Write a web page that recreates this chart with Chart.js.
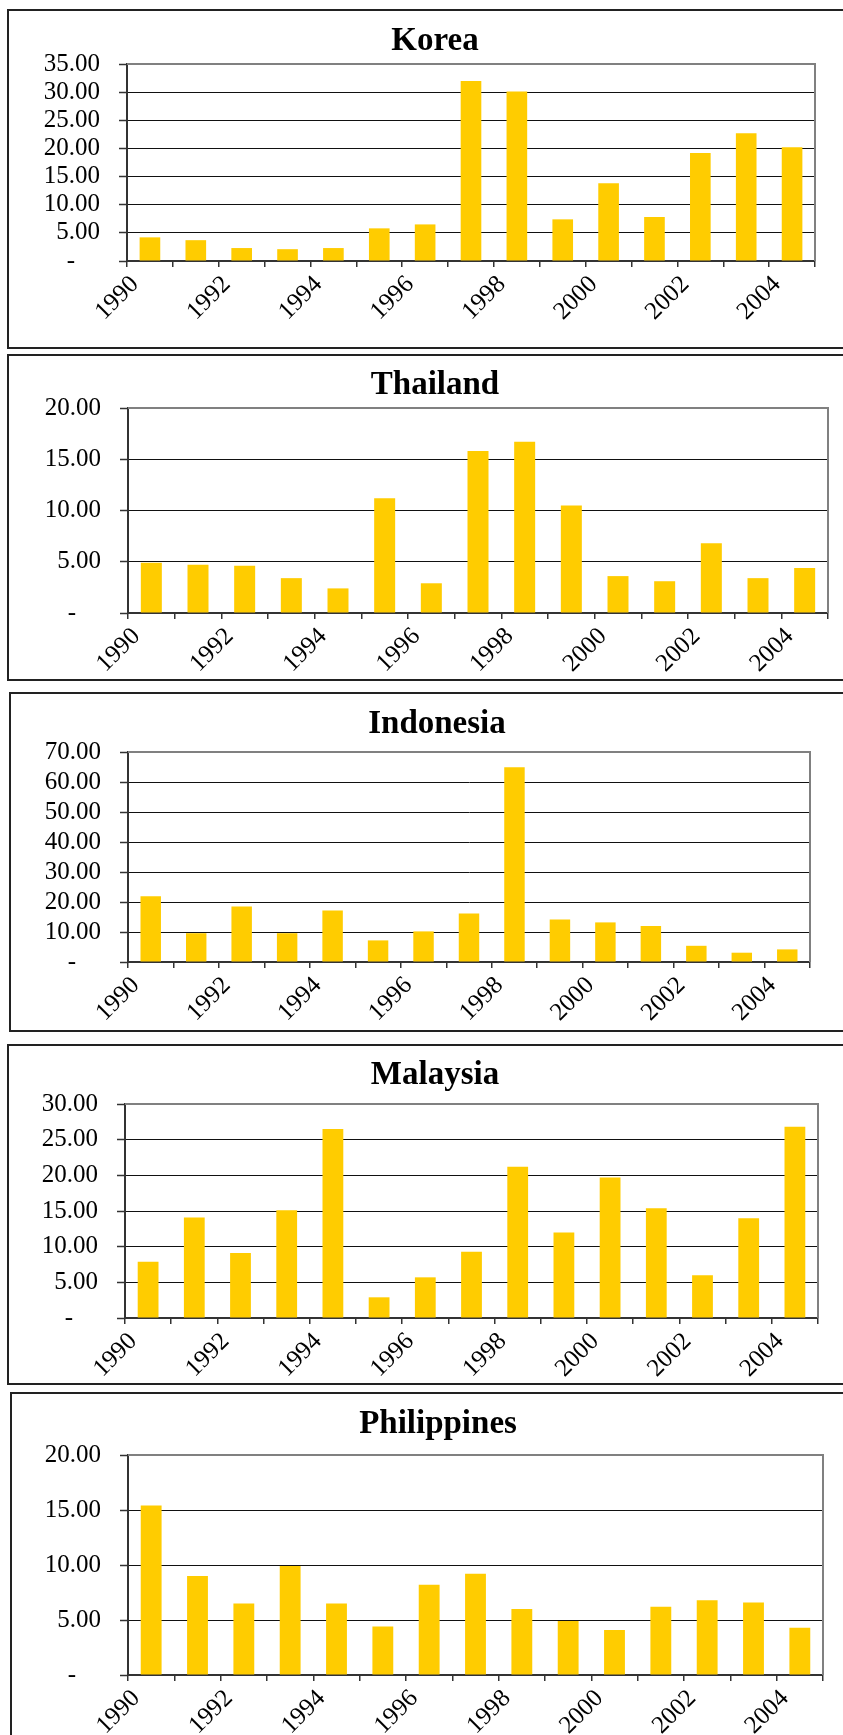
<!DOCTYPE html>
<html>
<head>
<meta charset="utf-8">
<title>Asian economies, 1990-2004</title>
<script src="https://cdn.jsdelivr.net/npm/chart.js@4.4.1/dist/chart.umd.min.js"></script>
<style>
  html, body { margin: 0; padding: 0; background: #fff; }
  body { position: relative; width: 843px; height: 1735px; overflow: hidden; }
  .panel { position: absolute; box-sizing: border-box; border: 2px solid #222; background: #fff; }
  .panel canvas { position: absolute; left: 0; top: 0; }
</style>
</head>
<body>
<script>
// ---- data ----
const years = ['1990', '1991', '1992', '1993', '1994', '1995', '1996', '1997',
               '1998', '1999', '2000', '2001', '2002', '2003', '2004'];

const countries = ['Korea', 'Thailand', 'Indonesia', 'Malaysia', 'Philippines'];

const koreaValues       = [4.2, 3.7, 2.3, 2.1, 2.3, 5.8, 6.5, 32.0, 30.1, 7.4, 13.8, 7.8, 19.2, 22.7, 20.2];
const thailandValues    = [4.9, 4.7, 4.6, 3.4, 2.4, 11.2, 2.9, 15.8, 16.7, 10.5, 3.6, 3.1, 6.8, 3.4, 4.4];
const indonesiaValues   = [21.9, 9.6, 18.5, 9.6, 17.2, 7.2, 10.2, 16.2, 64.9, 14.2, 13.2, 12.0, 5.4, 3.1, 4.2];
const malaysiaValues    = [7.9, 14.1, 9.1, 15.1, 26.5, 2.9, 5.7, 9.3, 21.2, 12.0, 19.7, 15.4, 6.0, 14.0, 26.8];
const philippinesValues = [15.4, 9.0, 6.5, 9.9, 6.5, 4.4, 8.2, 9.2, 6.0, 4.9, 4.1, 6.2, 6.8, 6.6, 4.3];

const seriesValues = [koreaValues, thailandValues, indonesiaValues, malaysiaValues, philippinesValues];

// value-axis ranges
const yAxisMax  = [35, 20, 70, 30, 20];
const yAxisStep = [5, 5, 10, 5, 5];

// ---- layout (page pixels) ----
// box: [left, top, width, height]; plot: [left, top, right, bottom]; titleBase: title baseline y
const panelLayout = [
  { box: [7, 9, 856, 340],    plot: [127, 64, 815, 261],    titleBase: 53 },
  { box: [7, 354, 856, 327],  plot: [128, 408, 828, 613],   titleBase: 397 },
  { box: [9, 692, 856, 340],  plot: [128, 752, 810, 962],   titleBase: 736 },
  { box: [7, 1044, 856, 341], plot: [125, 1104, 818, 1318], titleBase: 1087 },
  { box: [10, 1392, 856, 360], plot: [128, 1455, 823, 1675], titleBase: 1436 }
];

// ---- styles ----
const FONT_FAMILY = "'Liberation Serif', 'Times New Roman', serif";
const TITLE_SIZE = 33;
const TITLE_LINE = 1.2;
const TICK_SIZE = 25;
const BAR_COLOR = '#FFCC00';
const AXIS_COLOR = '#333333';
const GRID_COLOR = '#111111';
const FRAME_COLOR = '#808080';

// grey frame along the top and right of the plot area
const plotFrame = {
  id: 'plotFrame',
  beforeDatasetsDraw(chart) {
    const { ctx, chartArea: a } = chart;
    ctx.save();
    ctx.strokeStyle = FRAME_COLOR;
    ctx.lineWidth = 2;
    ctx.beginPath();
    ctx.moveTo(a.left, a.top);
    ctx.lineTo(a.right, a.top);
    ctx.lineTo(a.right, a.bottom);
    ctx.stroke();
    ctx.restore();
  }
};

function formatValue(v) {
  return v === 0 ? '-\u2007\u2007' : v.toFixed(2);
}

panelLayout.forEach((g, i) => {
  const [L, T, W, H] = g.box;
  const cx = L + 2, cy = T + 2, cw = W - 4, ch = H - 4;
  const pl = g.plot[0] - cx, pt = g.plot[1] - cy, pr = g.plot[2] - cx, pb = g.plot[3] - cy;

  const lineH = TITLE_SIZE * TITLE_LINE;
  const titleMid = g.titleBase - cy - 0.3375 * TITLE_SIZE;
  const titleTop = titleMid - lineH / 2;
  const titleBottom = pt - titleTop - lineH;

  const div = document.createElement('div');
  div.className = 'panel';
  div.style.left = L + 'px';
  div.style.top = T + 'px';
  div.style.width = W + 'px';
  div.style.height = H + 'px';
  const canvas = document.createElement('canvas');
  canvas.width = cw;
  canvas.height = ch;
  canvas.style.width = cw + 'px';
  canvas.style.height = ch + 'px';
  div.appendChild(canvas);
  document.body.appendChild(div);

  new Chart(canvas, {
    type: 'bar',
    data: {
      labels: years,
      datasets: [{
        label: countries[i],
        data: seriesValues[i],
        backgroundColor: BAR_COLOR,
        borderWidth: 0,
        barPercentage: 0.45,
        categoryPercentage: 1,
        yAxisID: 'y'
      }]
    },
    options: {
      responsive: false,
      animation: false,
      devicePixelRatio: 1,
      layout: { padding: 0 },
      plugins: {
        legend: { display: false },
        tooltip: { enabled: false },
        title: {
          display: true,
          text: countries[i],
          color: '#000',
          font: { family: FONT_FAMILY, size: TITLE_SIZE, weight: 'bold', lineHeight: TITLE_LINE },
          padding: { top: titleTop, bottom: titleBottom }
        }
      },
      scales: {
        x: {
          offset: true,
          grid: { offset: true, drawOnChartArea: false, tickLength: 6, color: AXIS_COLOR, lineWidth: 1.5 },
          border: { color: AXIS_COLOR, width: 2 },
          ticks: {
            autoSkip: false,
            maxRotation: 45,
            minRotation: 45,
            padding: 3,
            labelOffset: -15,
            color: '#000',
            font: { family: FONT_FAMILY, size: TICK_SIZE },
            callback(value, index) {
              return index % 2 === 0 ? this.getLabelForValue(value) : '';
            }
          },
          afterFit(scale) { scale.height = ch - pb; }
        },
        y: {
          min: 0,
          max: yAxisMax[i],
          grid: { color: GRID_COLOR, lineWidth: 1, tickLength: 8, tickColor: AXIS_COLOR, tickWidth: 1.5 },
          border: { color: AXIS_COLOR, width: 2 },
          ticks: {
            autoSkip: false,
            stepSize: yAxisStep[i],
            padding: 19,
            color: '#000',
            font: { family: FONT_FAMILY, size: TICK_SIZE },
            callback: (v) => formatValue(v)
          },
          afterFit(scale) { scale.width = pl; }
        },
        // blank margin to the right of the plot area
        margin: {
          type: 'linear',
          axis: 'y',
          position: 'right',
          display: true,
          grid: { display: false, drawTicks: false },
          border: { display: false },
          ticks: { display: false },
          afterFit(scale) { scale.width = cw - pr; }
        }
      }
    },
    plugins: [plotFrame]
  });
});
</script>
</body>
</html>
